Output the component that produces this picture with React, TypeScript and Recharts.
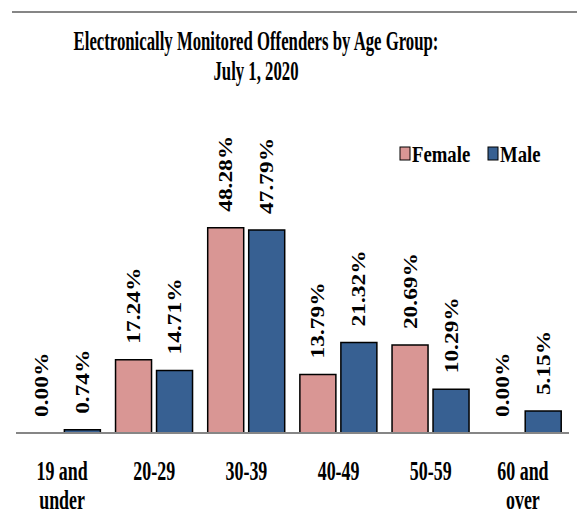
import React from 'react';
import { BarChart, Bar, XAxis, YAxis, LabelList, Rectangle } from 'recharts';

const ageGroups = ['19 and|under', '20-29', '30-39', '40-49', '50-59', '60 and|over'];
const female = [0.0, 17.24, 48.28, 13.79, 20.69, 0.0];
const male = [0.74, 14.71, 47.79, 21.32, 10.29, 5.15];
const seriesNames = ['Female', 'Male'];

const FEMALE_COLOR = '#D99694';
const MALE_COLOR = '#376092';
const FONT = '"Liberation Serif", "Times New Roman", serif';

const data = ageGroups.map((group, i) => ({
    group,
    female: female[i],
    male: male[i],
}));

// zero bars still need an entry so the 0.00% label gets drawn
const tinyMin = (value: any) => (value === 0 ? 0.01 : 0);

const BarShape = (props: any) => {
    if (props.height < 0.5) return <g />;
    return <Rectangle {...props} />;
};

const BarLabel = (props: any) => {
    const { x, y, width, height, value } = props;
    const cx = x + width / 2;
    const top = height < 0 ? y + height : y;
    const ty = top - 16;
    return (
        <text
            transform={`translate(${cx},${ty}) rotate(-90) scale(1.3,1)`}
            textAnchor="start"
            dy="0.36em"
            fontSize={18}
            fontWeight="bold"
            fontFamily={FONT}
            style={{ fontFamily: FONT }}
            fill="#000"
        >
            {Number(value).toFixed(2)}%
        </text>
    );
};

const AgeTick = (props: any) => {
    const { x, y, payload } = props;
    const lines = String(payload.value).split('|');
    return (
        <g transform={`translate(${x},${y})`}>
            <text
                transform="scale(0.64,1)"
                textAnchor="middle"
                fontSize={28}
                fontWeight="bold"
                fontFamily={FONT}
                fill="#000"
            >
                {lines.map((line, i) => (
                    <tspan key={i} x={0} y={39 + i * 29}>{line}</tspan>
                ))}
            </text>
        </g>
    );
};

export default function App() {
    return (
        <div style={{ position: 'absolute', left: 0, top: 0, width: 577, height: 522, background: '#fff' }}>
            <div style={{ position: 'absolute', left: 0, top: 0 }}>
                <BarChart
                    width={577}
                    height={522}
                    data={data}
                    margin={{ top: 178, right: 8, left: 16, bottom: 0 }}
                    barCategoryGap="8%"
                    barGap={5}
                >
                    <XAxis
                        dataKey="group"
                        height={89}
                        axisLine={{ stroke: '#868686', strokeWidth: 2 }}
                        tickLine={false}
                        tick={<AgeTick />}
                        interval={0}
                    />
                    <YAxis hide domain={[0, 60]} />
                    <Bar dataKey="female" name={seriesNames[0]} fill={FEMALE_COLOR} stroke="#000" strokeWidth={1.5}
                        minPointSize={tinyMin} shape={<BarShape />} isAnimationActive={false}>
                        <LabelList dataKey="female" content={<BarLabel />} />
                    </Bar>
                    <Bar dataKey="male" name={seriesNames[1]} fill={MALE_COLOR} stroke="#000" strokeWidth={1.5}
                        minPointSize={tinyMin} shape={<BarShape />} isAnimationActive={false}>
                        <LabelList dataKey="male" content={<BarLabel />} />
                    </Bar>
                </BarChart>
            </div>
            <svg width={577} height={175} style={{ position: 'absolute', left: 0, top: 0 }}>
                <line x1={12} y1={12} x2={577} y2={12} stroke="#868686" strokeWidth={2} />
                <text
                    transform="translate(256,50) scale(0.62,1)"
                    textAnchor="middle"
                    fontSize={27}
                    fontWeight="bold"
                    fontFamily={FONT}
                >
                    <tspan x={0} y={0}>Electronically Monitored Offenders by Age Group:</tspan>
                    <tspan x={0} y={30}>July 1, 2020</tspan>
                </text>
                <g transform="translate(399,140)">
                    <rect x={1} y={7} width={10} height={13} fill={FEMALE_COLOR} stroke="#000" strokeWidth={1} />
                    <text transform="translate(13,22) scale(0.78,1)" fontSize={24} fontWeight="bold" fontFamily={FONT}>{seriesNames[0]}</text>
                    <rect x={89} y={7} width={10} height={13} fill={MALE_COLOR} stroke="#000" strokeWidth={1} />
                    <text transform="translate(101,22) scale(0.78,1)" fontSize={24} fontWeight="bold" fontFamily={FONT}>{seriesNames[1]}</text>
                </g>
            </svg>
        </div>
    );
}
